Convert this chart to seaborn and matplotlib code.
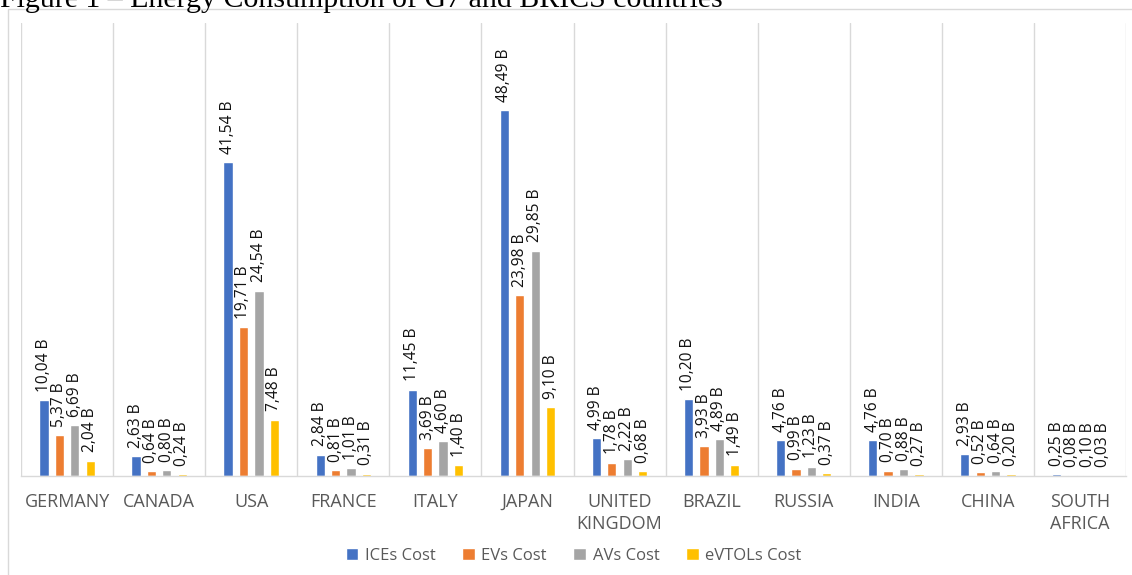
import matplotlib
matplotlib.use("Agg")
import matplotlib.pyplot as plt
import seaborn as sns
import pandas as pd
from matplotlib.patches import Rectangle

# Country categories and cost series (billions)
countries = ["GERMANY", "CANADA", "USA", "FRANCE", "ITALY", "JAPAN",
             "UNITED\nKINGDOM", "BRAZIL", "RUSSIA", "INDIA", "CHINA", "SOUTH\nAFRICA"]
ices_cost = [10.04, 2.63, 41.54, 2.84, 11.45, 48.49, 4.99, 10.20, 4.76, 4.76, 2.93, 0.25]
evs_cost = [5.37, 0.64, 19.71, 0.81, 3.69, 23.98, 1.78, 3.93, 0.99, 0.70, 0.52, 0.08]
avs_cost = [6.69, 0.80, 24.54, 1.01, 4.60, 29.85, 2.22, 4.89, 1.23, 0.88, 0.64, 0.10]
evtols_cost = [2.04, 0.24, 7.48, 0.31, 1.40, 9.10, 0.68, 1.49, 0.37, 0.27, 0.20, 0.03]
series_names = ["ICEs Cost", "EVs Cost", "AVs Cost", "eVTOLs Cost"]
palette = ["#4472C4", "#ED7D31", "#A5A5A5", "#FFC000"]

series_values = [ices_cost, evs_cost, avs_cost, evtols_cost]
df = pd.DataFrame({
    "country": [c for _ in series_names for c in countries],
    "series": [s for s in series_names for _ in countries],
    "value": [v for vals in series_values for v in vals],
})

sns.set_theme(style="white")
plt.rcParams["font.family"] = ["Open Sans", "DejaVu Sans"]

fig = plt.figure(figsize=(11.32, 5.75), dpi=100)
W, H = 1132, 575
ax = fig.add_axes([21 / W, 1 - 476 / H, (1126 - 21) / W, (476 - 23) / H])

sns.barplot(data=df, x="country", y="value", hue="series", order=countries,
            hue_order=series_names, palette=palette, width=0.67, gap=0.4,
            saturation=1, legend=True, ax=ax)

# Value labels above each bar, rotated, with comma decimals
for cont, vals in zip(ax.containers, series_values):
    labels = [f"{v:.2f}".replace(".", ",") + " B" for v in vals]
    ax.bar_label(cont, labels=labels, rotation=90, padding=6,
                 fontsize=11.2, color="#111111")

ax.set_xlim(-0.5, len(countries) - 0.5)
ax.set_ylim(0, 60)
ax.set_xlabel("")
ax.set_ylabel("")
ax.set_yticks([])
ax.tick_params(axis="x", length=0, pad=12, labelsize=13, labelcolor="#595959")
for lbl in ax.get_xticklabels():
    lbl.set_linespacing(1.3)

# Vertical separators between categories
for b in range(len(countries) + 1):
    ax.axvline(b - 0.5, color="#D9D9D9", lw=1, zorder=0)

for s in ["top", "left", "right"]:
    ax.spines[s].set_visible(False)
ax.spines["bottom"].set_color("#D9D9D9")
ax.spines["bottom"].set_linewidth(1)

leg = ax.legend(loc="center", bbox_to_anchor=(0.5, (556 - 476) / -(476 - 23)),
                ncol=4, frameon=False, fontsize=12, handlelength=0.75,
                handleheight=0.75, handletextpad=0.4, columnspacing=1.6,
                labelcolor="#595959")

# Outer chart border
fig.patches.append(Rectangle((8 / W, -0.01), 1.02, 1 - 9 / H + 0.01,
                             transform=fig.transFigure, fill=False,
                             edgecolor="#D9D9D9", lw=1))

fig.text(0.0, 1 - 7 / H, "Figure 1 – Energy Consumption of G7 and BRICS countries",
         family="Liberation Serif", fontsize=21.5, va="baseline", ha="left",
         color="black")

fig.savefig("out.png", dpi=100)
